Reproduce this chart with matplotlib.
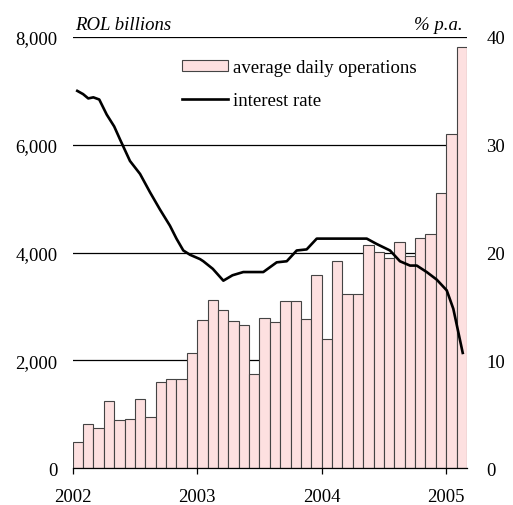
import matplotlib
matplotlib.use("Agg")
import matplotlib.pyplot as plt
import numpy as np

plt.rcParams['font.family'] = ['Liberation Serif', 'DejaVu Serif']

# monthly average daily operations, Jan 2002 - Feb 2005 (ROL billions)
ops = [480, 830, 755, 1250, 900, 920, 1285, 950, 1610, 1665, 1660, 2140,
       2750, 3130, 2940, 2740, 2650, 1745, 2790, 2705, 3095, 3105, 2770, 3578,
       2390, 3836, 3242, 3224, 4145, 4003, 3898, 4189, 3940, 4269, 4343, 5098,
       6205, 7820]

# interest rate (% p.a.), x in months since Jan 2002
rate_x = [0.44, 1.00, 1.50, 1.99, 2.56, 3.28, 4.00, 4.56, 5.52, 6.49, 7.45,
          8.41, 9.37, 10.00, 10.66, 11.31, 12.27, 12.59, 13.50, 14.52, 15.40,
          16.44, 17.50, 18.37, 19.66, 20.63, 21.59, 22.55, 23.52, 24.80,
          28.34, 29.30, 30.58, 31.54, 32.51, 33.16, 34.12, 35.08, 36.05,
          36.68, 37.17, 37.59]
rate_y = [35.0, 34.7, 34.3, 34.4, 34.2, 32.8, 31.7, 30.5, 28.5, 27.3, 25.6,
          24.0, 22.5, 21.3, 20.2, 19.8, 19.4, 19.2, 18.5, 17.4, 17.9,
          18.2, 18.2, 18.2, 19.1, 19.2, 20.2, 20.3, 21.3, 21.3,
          21.3, 20.8, 20.2, 19.2, 18.8, 18.8, 18.2, 17.5, 16.5,
          14.8, 12.6, 10.7]

years = ['2002', '2003', '2004', '2005']

fig = plt.figure(figsize=(5.13, 5.06), dpi=100)
ax = fig.add_axes([0.1417, 0.0725, 0.7686, 0.8525])
ax2 = ax.twinx()

FS = 13.5

for y in [2000, 4000, 6000, 8000]:
    ax.axhline(y, color='black', lw=0.9, zorder=0)

bars = ax.bar(np.arange(len(ops)), ops, width=1, align='edge',
              color='#fde0e0', edgecolor='#444444', linewidth=0.8,
              zorder=2, label='average daily operations')
line, = ax2.plot(rate_x, rate_y, color='black', lw=1.9,
                 solid_joinstyle='round', label='interest rate')

ax.set_xlim(0, 38)
ax.set_ylim(0, 8000)
ax2.set_ylim(0, 40)

ax.set_xticks([0, 12, 24, 36])
ax.set_xticklabels(years, fontsize=FS)
ax.set_yticks([0, 2000, 4000, 6000, 8000])
ax.set_yticklabels(['0', '2,000', '4,000', '6,000', '8,000'], fontsize=FS)
ax2.set_yticks([0, 10, 20, 30, 40])
ax2.set_yticklabels(['0', '10', '20', '30', '40'], fontsize=FS)

ax.tick_params(axis='x', direction='out', length=4.5, width=0.9, pad=10)
ax.tick_params(axis='y', length=0, pad=11)
ax2.tick_params(axis='y', length=0, pad=14)

for a in (ax, ax2):
    for s in ['top', 'left', 'right']:
        a.spines[s].set_visible(False)
ax2.spines['bottom'].set_visible(False)
ax.spines['bottom'].set_linewidth(0.9)

ax.text(0.005, 1.01, 'ROL billions', transform=ax.transAxes, fontsize=FS,
        style='italic', ha='left', va='bottom')
ax.text(0.99, 1.01, '% p.a.', transform=ax.transAxes, fontsize=FS,
        style='italic', ha='right', va='bottom')

ax2.legend([bars, line], ['average daily operations', 'interest rate'],
           loc='upper left', bbox_to_anchor=(0.277, 0.948), frameon=False,
           fontsize=FS, borderpad=0, borderaxespad=0, handlelength=2.45,
           handleheight=0.55, handletextpad=0.25, labelspacing=0.85)

fig.savefig('out.png', dpi=100)
